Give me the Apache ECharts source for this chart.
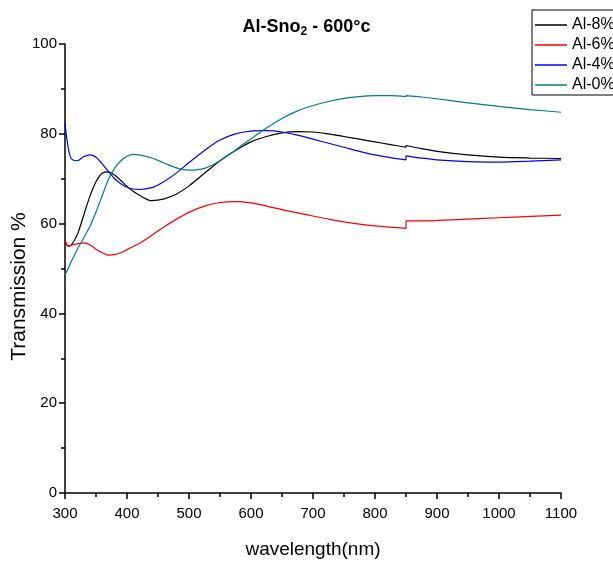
<!DOCTYPE html>
<html>
<head>
<meta charset="utf-8">
<script src="https://cdn.jsdelivr.net/npm/echarts@6/dist/echarts.min.js"></script>
<style>html,body{margin:0;padding:0;background:#fff}#c{width:613px;height:561px}</style>
</head>
<body>
<div id="c"></div>
<script>
var wavelength = [300,305,310,320,330,340,350,360,370,380,390,400,410,420,440,460,480,500,525,550,575,600,625,650,675,700,725,750,775,800,825,850,850,875,900,950,1000,1050,1100];
var al8 = [56.3,55.0,55.2,57.6,61.8,66.0,69.3,71.2,71.5,70.8,69.6,68.3,67.2,66.3,65.1,65.5,66.6,68.4,71.2,74.0,76.3,78.2,79.4,80.2,80.5,80.4,80.0,79.4,78.8,78.2,77.6,77.0,77.4,76.7,76.1,75.3,74.8,74.6,74.5];
var al6 = [56.3,55.0,55.2,55.5,55.7,55.3,54.3,53.5,53.0,53.1,53.5,54.2,54.9,55.6,57.4,59.3,61.0,62.5,63.9,64.7,64.9,64.6,63.9,63.1,62.4,61.7,61.0,60.4,59.9,59.5,59.2,58.95,60.6,60.6,60.7,61.0,61.3,61.6,61.9];
var al4 = [82.3,77.1,74.5,74.0,74.9,75.3,74.8,73.3,71.6,70.0,68.9,68.1,67.7,67.6,68.0,69.4,71.3,73.6,76.3,78.6,80.0,80.6,80.7,80.4,79.7,78.8,77.9,77.0,76.1,75.3,74.7,74.2,75.1,74.6,74.2,73.8,73.7,73.9,74.2];
var al0 = [48.5,50.0,51.5,54.3,56.8,59.3,62.6,66.2,69.8,72.3,74.0,75.0,75.4,75.3,74.6,73.5,72.4,71.9,72.3,74.0,76.4,78.9,81.3,83.4,85.1,86.3,87.2,87.9,88.3,88.5,88.5,88.3,88.5,88.2,87.8,86.9,86.1,85.4,84.8];
var seriesNames = ['Al-8%','Al-6%','Al-4%','Al-0%'];
var seriesColors = ['#000000','#ff0000','#0000ff','#008080'];
var seriesValues = [al8, al6, al4, al0];
var xTicks = [300,400,500,600,700,800,900,1000,1100];
var yTicks = [0,20,40,60,80,100];

function pairs(vals){ return wavelength.map(function(w,i){ return [w, vals[i]]; }); }

var chart = echarts.init(document.getElementById('c'));
var font = 'Liberation Sans, Arial, sans-serif';
chart.setOption({
  animation: false,
  backgroundColor: '#fff',
  title: {
    text: '{a|Al-Sno}{b|2}{a| - 600°c}',
    left: 'center',
    top: 11,
    textStyle: {
      rich: {
        a: {fontFamily: font, fontSize: 18, fontWeight: 'bold', color: '#000', lineHeight: 22},
        b: {fontFamily: font, fontSize: 12, fontWeight: 'bold', color: '#000', verticalAlign: 'bottom', padding: [14,0,0,0], lineHeight: 12}
      }
    }
  },
  legend: {
    orient: 'vertical',
    left: 532,
    top: 10,
    padding: [7, 40, 2, 3],
    borderColor: '#000',
    borderWidth: 1,
    icon: 'rect',
    itemWidth: 32,
    itemHeight: 1.5,
    itemGap: 4,
    textStyle: {fontFamily: font, fontSize: 16, color: '#000', lineHeight: 16},
    data: seriesNames
  },
  grid: {left: 65, right: 52, top: 44, bottom: 68, containLabel: false, outerBoundsMode: 'none'},
  xAxis: {
    type: 'value', min: xTicks[0], max: xTicks[xTicks.length-1], interval: 100,
    name: 'wavelength(nm)', nameLocation: 'middle', nameGap: 47, nameMoveOverlap: false,
    nameTextStyle: {fontFamily: font, fontSize: 19, color: '#000'},
    axisLine: {lineStyle: {color: '#000', width: 1.5}},
    axisTick: {length: 6, lineStyle: {color: '#000', width: 1.5}},
    minorTick: {show: true, splitNumber: 2, length: 4, lineStyle: {color: '#000', width: 1.5}},
    axisLabel: {fontFamily: font, fontSize: 15, color: '#000', margin: 13, formatter: function(v){ return String(v); }},
    splitLine: {show: false}
  },
  yAxis: {
    type: 'value', min: yTicks[0], max: yTicks[yTicks.length-1], interval: 20,
    name: 'Transmission %', nameLocation: 'middle', nameGap: 35, nameMoveOverlap: false,
    nameTextStyle: {fontFamily: font, fontSize: 21, color: '#000', padding: [0, 36, 0, 0]},
    axisLine: {show: true, lineStyle: {color: '#000', width: 1.5}},
    axisTick: {show: true, length: 6, lineStyle: {color: '#000', width: 1.5}},
    minorTick: {show: true, splitNumber: 2, length: 4, lineStyle: {color: '#000', width: 1.5}},
    axisLabel: {fontFamily: font, fontSize: 15, color: '#000', margin: 8},
    splitLine: {show: false}
  },
  series: seriesNames.map(function(n,i){
    return {
      name: n, type: 'line', data: pairs(seriesValues[i]),
      symbol: 'none', smooth: 0.3,
      lineStyle: {color: seriesColors[i], width: 1.2},
      itemStyle: {color: seriesColors[i]}
    };
  })
});
</script>
</body>
</html>
